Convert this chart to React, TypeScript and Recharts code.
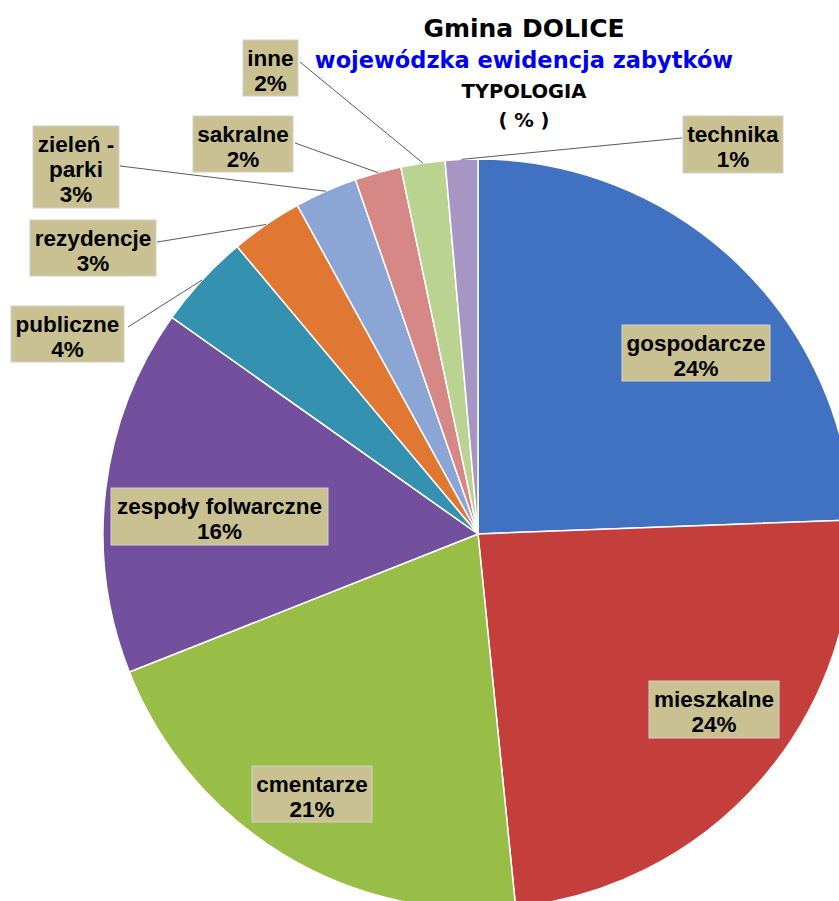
import React from 'react';
import { PieChart, Pie, Cell } from 'recharts';

// dane: typologia zabytków (wartości w %)
const categories = [
  'gospodarcze',
  'mieszkalne',
  'cmentarze',
  'zespoły folwarczne',
  'publiczne',
  'rezydencje',
  'zieleń - parki',
  'sakralne',
  'inne',
  'technika',
];
const shares = [24.4, 24.0, 20.6, 15.8, 4.1, 3.1, 2.7, 2.0, 1.9, 1.4];
const labelLines = [
  ['gospodarcze'],
  ['mieszkalne'],
  ['cmentarze'],
  ['zespoły folwarczne'],
  ['publiczne'],
  ['rezydencje'],
  ['zieleń -', 'parki'],
  ['sakralne'],
  ['inne'],
  ['technika'],
];

const colors = [
  '#4172C1', '#C43E3C', '#98BE48', '#72509E', '#3491AF',
  '#E07732', '#8BA6D5', '#D68887', '#BBD391', '#A796C4',
];

// ręczne rozmieszczenie etykiet (jak w Excelu): box + punkt startu linii odniesienia
const labelBoxes = [
  { x: 622, y: 325, w: 148, h: 56 },
  { x: 649, y: 681, w: 130, h: 57 },
  { x: 252, y: 766, w: 120, h: 56 },
  { x: 111, y: 488, w: 217, h: 57 },
  { x: 11, y: 306, w: 113, h: 56, ax: 128, ay: 327 },
  { x: 30, y: 220, w: 126, h: 56, ax: 157, ay: 242 },
  { x: 33, y: 126, w: 86, h: 82, ax: 120, ay: 166 },
  { x: 193, y: 116, w: 100, h: 56, ax: 295, ay: 143 },
  { x: 243, y: 40, w: 55, h: 56, ax: 300, ay: 62 },
  { x: 683, y: 116, w: 100, h: 57, ax: 682, ay: 138 },
];

const data = categories.map((name, i) => ({ name, value: shares[i] }));

const RAD = Math.PI / 180;

function renderLabel(props: any) {
  const { cx, cy, midAngle, outerRadius, index, percent } = props;
  const box = labelBoxes[index];
  const lines = [...labelLines[index], `${Math.round(percent * 100)}%`];
  const centerX = box.x + box.w / 2;
  let leader = null;
  if (box.ax !== undefined) {
    const ex = cx + outerRadius * Math.cos(-midAngle * RAD);
    const ey = cy + outerRadius * Math.sin(-midAngle * RAD);
    leader = <line x1={box.ax} y1={box.ay} x2={ex} y2={ey} stroke="#595959" strokeWidth={1} />;
  }
  return (
    <g key={`lbl-${index}`}>
      {leader}
      <rect x={box.x} y={box.y} width={box.w} height={box.h} fill="#C9C192" stroke="#d0d0d0" strokeWidth={1} />
      {lines.map((t, k) => (
        <text
          key={k}
          x={centerX}
          y={box.y + 26 + k * 25}
          textAnchor="middle"
          fill="#000"
          style={{ fontFamily: '"Liberation Sans", Arial, sans-serif', fontWeight: 700, fontSize: 22.5 }}
        >
          {t}
        </text>
      ))}
    </g>
  );
}

export default function App() {
  const titleFont = '"DejaVu Sans", sans-serif';
  return (
    <div style={{ position: 'absolute', left: 0, top: 0, width: 839, height: 901, overflow: 'hidden', background: '#fff' }}>
      <PieChart width={839} height={901} margin={{ top: 0, right: 0, bottom: 0, left: 0 }}>
        <Pie
          data={data}
          dataKey="value"
          nameKey="name"
          cx={478}
          cy={534}
          outerRadius={375}
          startAngle={90}
          endAngle={-270}
          stroke="#ffffff"
          strokeWidth={1.5}
          labelLine={false}
          label={renderLabel}
          isAnimationActive={false}
        >
          {data.map((d, i) => (
            <Cell key={d.name} fill={colors[i]} />
          ))}
        </Pie>
      </PieChart>
      <svg width={839} height={140} style={{ position: 'absolute', left: 0, top: 0, pointerEvents: 'none' }}>
        <text x={524} y={37} textAnchor="middle" fill="#000" style={{ fontFamily: titleFont, fontWeight: 700, fontSize: 25 }}>
          Gmina DOLICE
        </text>
        <text x={524} y={68} textAnchor="middle" fill="#0000F0" style={{ fontFamily: titleFont, fontWeight: 700, fontSize: 22.5 }}>
          wojewódzka ewidencja zabytków
        </text>
        <text x={524} y={98} textAnchor="middle" fill="#000" style={{ fontFamily: titleFont, fontWeight: 700, fontSize: 19.5 }}>
          TYPOLOGIA
        </text>
        <text x={524} y={127} textAnchor="middle" fill="#000" style={{ fontFamily: titleFont, fontWeight: 700, fontSize: 19.5 }}>
          ( % )
        </text>
      </svg>
    </div>
  );
}
